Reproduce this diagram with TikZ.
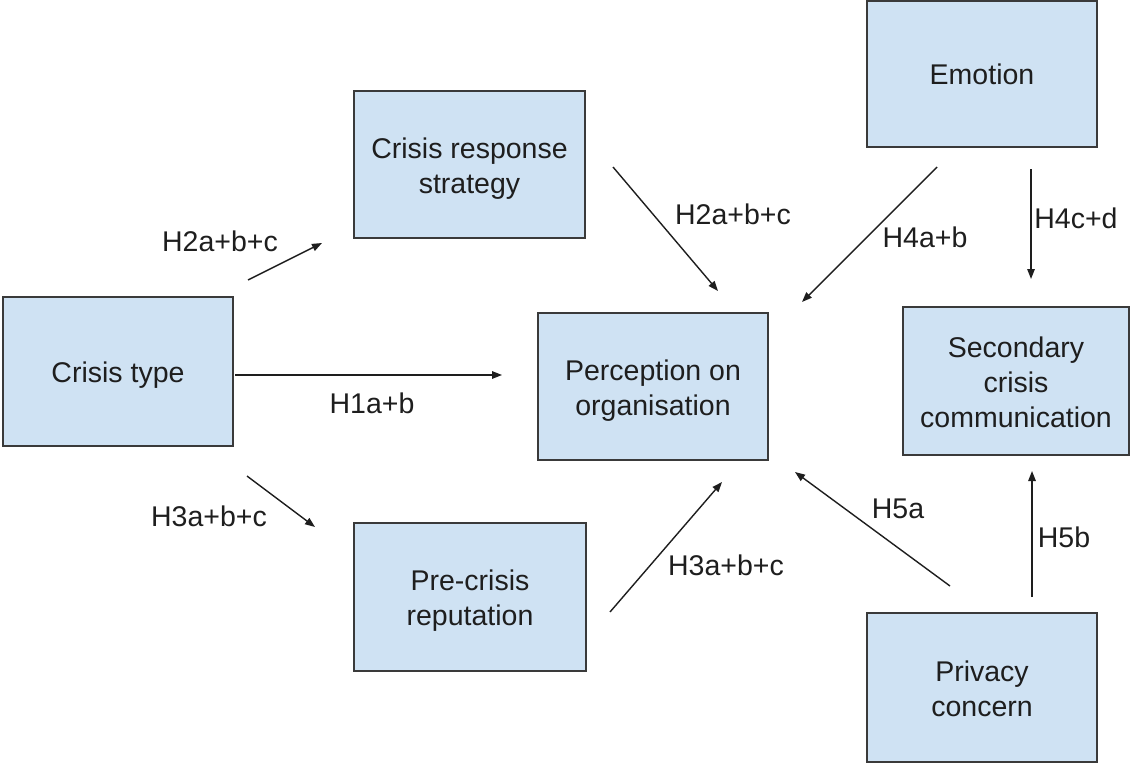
\documentclass[tikz,border=0pt]{standalone}
\usepackage{fontspec}
\setmainfont{Liberation Sans}
\usetikzlibrary{arrows.meta}
\definecolor{boxfill}{HTML}{CFE2F3}
\definecolor{boxline}{HTML}{3A3A3A}
\definecolor{txt}{HTML}{1E1E1E}
\newcommand\boxtext[1]{\raisebox{-4bp}[\height][\depth]{\begin{tabular}{@{}c@{}}#1\end{tabular}}}
\tikzset{
  box/.style={draw=boxline, line width=2bp, fill=boxfill, rectangle, align=center,
    inner sep=0pt, text=txt, font=\fontsize{28.5bp}{35bp}\selectfont},
  conn/.style={line width=1.4bp, draw=txt, -{Triangle[length=10bp,width=7.5bp]}},
  lbl/.style={text=txt, font=\fontsize{28.5bp}{34bp}\selectfont, inner sep=0pt}
}
\begin{document}
\begin{tikzpicture}[x=1bp,y=-1bp]
\useasboundingbox (0,0) rectangle (1131,763);
% boxes
\node[box, minimum width=230bp, minimum height=149bp] (ct) at (118,371) {\boxtext{Crisis type}};
\node[box, minimum width=231bp, minimum height=147bp] (crs) at (469.5,164.5) {\boxtext{Crisis response\\strategy}};
\node[box, minimum width=230bp, minimum height=146bp] (emo) at (982,74) {\boxtext{Emotion}};
\node[box, minimum width=230bp, minimum height=147bp] (per) at (653,386.5) {\boxtext{Perception on\\organisation}};
\node[box, minimum width=226bp, minimum height=148bp] (sec) at (1016,381) {\boxtext{Secondary\\crisis\\communication}};
\node[box, minimum width=232bp, minimum height=148bp] (pre) at (470,597) {\boxtext{Pre-crisis\\reputation}};
\node[box, minimum width=230bp, minimum height=149bp] (pri) at (982,687.5) {\boxtext{Privacy\\concern}};
% connector end points
\coordinate (a1s) at (248,280); \coordinate (a1e) at (322,243);
\coordinate (a2s) at (613,167); \coordinate (a2e) at (718,291);
\coordinate (a3s) at (235,375); \coordinate (a3e) at (502,375);
\coordinate (a4s) at (247,476); \coordinate (a4e) at (315,527);
\coordinate (a5s) at (610,612); \coordinate (a5e) at (722,482);
\coordinate (a6s) at (937,167); \coordinate (a6e) at (802,302);
\coordinate (a7s) at (1031,169); \coordinate (a7e) at (1031,279);
\coordinate (a8s) at (950,586); \coordinate (a8e) at (795,472);
\coordinate (a9s) at (1032,597); \coordinate (a9e) at (1032,471);
% connectors
\draw[conn] (a1s) -- (a1e);
\draw[conn] (a2s) -- (a2e);
\draw[conn] (a3s) -- (a3e);
\draw[conn] (a4s) -- (a4e);
\draw[conn] (a5s) -- (a5e);
\draw[conn] (a6s) -- (a6e);
\draw[conn] (a7s) -- (a7e);
\draw[conn] (a8s) -- (a8e);
\draw[conn] (a9s) -- (a9e);
% labels
\node[lbl] (l1) at (220,241) {H2a+b+c};
\node[lbl] (l2) at (733,214) {H2a+b+c};
\node[lbl] (l3) at (372,403) {H1a+b};
\node[lbl] (l4) at (209,516) {H3a+b+c};
\node[lbl] (l5) at (726,565) {H3a+b+c};
\node[lbl] (l6) at (925,237) {H4a+b};
\node[lbl] (l7) at (1076,218) {H4c+d};
\node[lbl] (l8) at (898,509) {H5a};
\node[lbl] (l9) at (1064,537) {H5b};
\end{tikzpicture}
\end{document}
